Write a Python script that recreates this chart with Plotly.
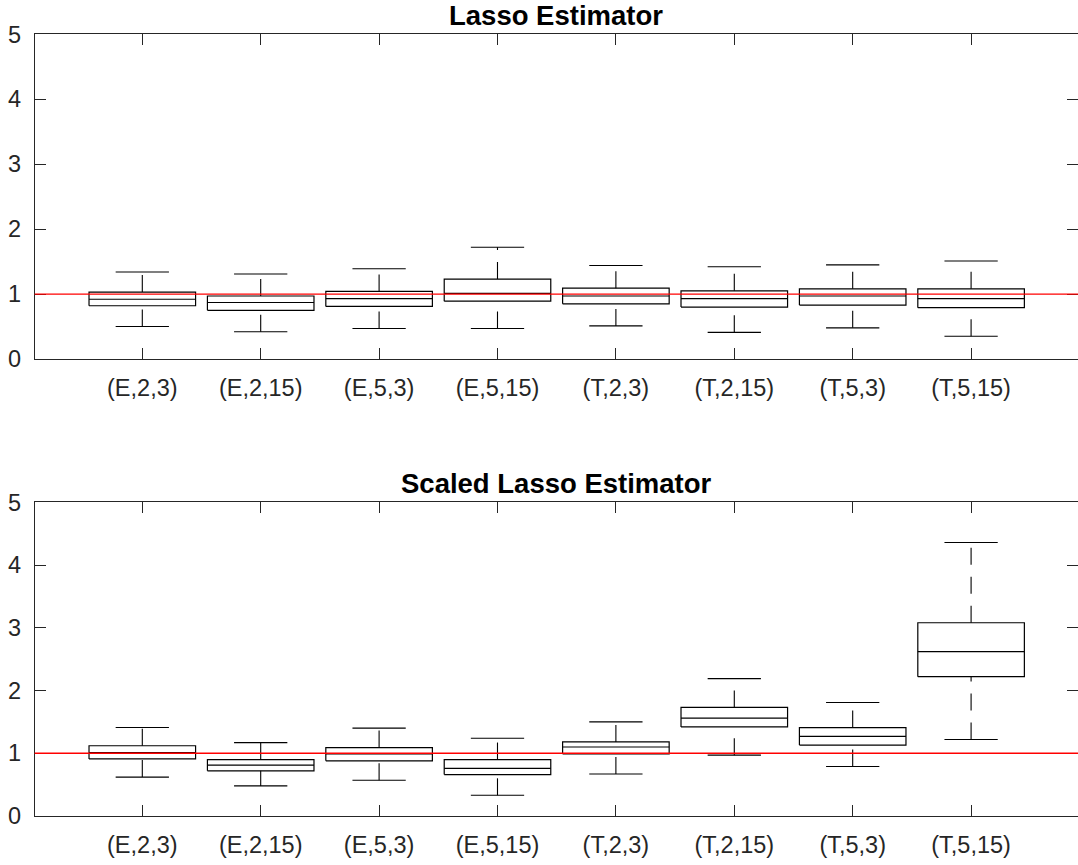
import plotly.graph_objects as go

categories = ["(E,2,3)", "(E,2,15)", "(E,5,3)", "(E,5,15)",
              "(T,2,3)", "(T,2,15)", "(T,5,3)", "(T,5,15)"]

# Lasso Estimator
lasso_lower  = [0.50, 0.42, 0.47, 0.47, 0.51, 0.41, 0.48, 0.35]
lasso_q1     = [0.82, 0.75, 0.81, 0.89, 0.85, 0.80, 0.83, 0.79]
lasso_median = [0.92, 0.87, 0.93, 1.01, 0.97, 0.93, 0.97, 0.93]
lasso_q3     = [1.03, 0.97, 1.04, 1.23, 1.09, 1.05, 1.08, 1.08]
lasso_upper  = [1.34, 1.31, 1.39, 1.72, 1.44, 1.42, 1.45, 1.51]

# Scaled Lasso Estimator
scaled_lower  = [0.62, 0.48, 0.57, 0.33, 0.67, 0.97, 0.79, 1.22]
scaled_q1     = [0.91, 0.72, 0.88, 0.66, 0.99, 1.42, 1.13, 2.22]
scaled_median = [1.01, 0.81, 0.99, 0.76, 1.10, 1.56, 1.27, 2.62]
scaled_q3     = [1.12, 0.90, 1.09, 0.90, 1.18, 1.73, 1.41, 3.08]
scaled_upper  = [1.41, 1.17, 1.40, 1.24, 1.50, 2.19, 1.81, 4.36]

reference_value = 1.0
titles = ["Lasso Estimator", "Scaled Lasso Estimator"]

positions = list(range(1, len(categories) + 1))
box_half = 0.45
cap_half = 0.225

FONT = "Liberation Sans, Arial, Helvetica, sans-serif"
AXCOL = "#262626"

fig = go.Figure()


def add_panel(xa, ya, lower, q1, med, q3, upper):
    bx, by, mx, my, cx, cy, wx, wy = [], [], [], [], [], [], [], []
    for p, lo, a, m, b, hi in zip(positions, lower, q1, med, q3, upper):
        bx += [p - box_half, p + box_half, p + box_half, p - box_half, p - box_half, None]
        by += [a, a, b, b, a, None]
        mx += [p - box_half, p + box_half, None]
        my += [m, m, None]
        cx += [p - cap_half, p + cap_half, None, p - cap_half, p + cap_half, None]
        cy += [lo, lo, None, hi, hi, None]
        wx += [p, p, None, p, p, None]
        wy += [lo, a, None, b, hi, None]
    common = dict(xaxis=xa, yaxis=ya, mode="lines", showlegend=False, hoverinfo="skip")
    fig.add_trace(go.Scatter(x=wx, y=wy, line=dict(color="black", width=1.1, dash="17px,12px"), **common))
    fig.add_trace(go.Scatter(x=cx, y=cy, line=dict(color="black", width=1.1), **common))
    fig.add_trace(go.Scatter(x=bx, y=by, line=dict(color="black", width=1.2), **common))
    fig.add_trace(go.Scatter(x=mx, y=my, line=dict(color="black", width=1.2), **common))


add_panel("x", "y", lasso_lower, lasso_q1, lasso_median, lasso_q3, lasso_upper)
add_panel("x2", "y2", scaled_lower, scaled_q1, scaled_median, scaled_q3, scaled_upper)

W, H = 1078, 865
xdom = [34.7 / W, 1.0]
xrange = [0.0912, 8.903]
ydom_top = [1 - 359 / H, 1 - 34.3 / H]
ydom_bot = [1 - 816 / H, 1 - 502.3 / H]

xaxis_common = dict(
    range=xrange, domain=xdom, tickmode="array", tickvals=positions, ticktext=categories,
    showline=True, linecolor=AXCOL, linewidth=1, mirror="ticks",
    ticks="inside", ticklen=11, tickwidth=1, tickcolor=AXCOL,
    showgrid=False, zeroline=False, ticklabelstandoff=8, automargin=False,
    tickfont=dict(family=FONT, size=23.5, color=AXCOL), fixedrange=True,
)
yaxis_common = dict(
    range=[0, 5], tickmode="array", tickvals=[0, 1, 2, 3, 4, 5],
    showline=True, linecolor=AXCOL, linewidth=1, mirror="ticks",
    ticks="inside", ticklen=11, tickwidth=1, tickcolor=AXCOL,
    showgrid=False, zeroline=False, ticklabelstandoff=8, automargin=False,
    tickfont=dict(family=FONT, size=23.5, color=AXCOL), fixedrange=True,
)

fig.update_layout(
    width=W, height=H, autosize=False,
    margin=dict(l=0, r=0, t=0, b=0, pad=0, autoexpand=False),
    paper_bgcolor="white", plot_bgcolor="white",
    xaxis=dict(anchor="y", **xaxis_common),
    yaxis=dict(anchor="x", domain=ydom_top, **yaxis_common),
    xaxis2=dict(anchor="y2", **xaxis_common),
    yaxis2=dict(anchor="x2", domain=ydom_bot, **yaxis_common),
    shapes=[
        dict(type="line", xref="x domain", yref="y", x0=0, x1=1,
             y0=reference_value, y1=reference_value, line=dict(color="red", width=1.3)),
        dict(type="line", xref="x2 domain", yref="y2", x0=0, x1=1,
             y0=reference_value, y1=reference_value, line=dict(color="red", width=1.3)),
    ],
    annotations=[
        dict(text="<b>%s</b>" % titles[0], xref="paper", yref="paper",
             x=(xdom[0] + xdom[1]) / 2, y=1 - 15 / H, xanchor="center", yanchor="middle",
             showarrow=False, font=dict(family=FONT, size=27.5, color="black")),
        dict(text="<b>%s</b>" % titles[1], xref="paper", yref="paper",
             x=(xdom[0] + xdom[1]) / 2, y=1 - 483 / H, xanchor="center", yanchor="middle",
             showarrow=False, font=dict(family=FONT, size=27.5, color="black")),
    ],
)

fig.write_html("out.html")
